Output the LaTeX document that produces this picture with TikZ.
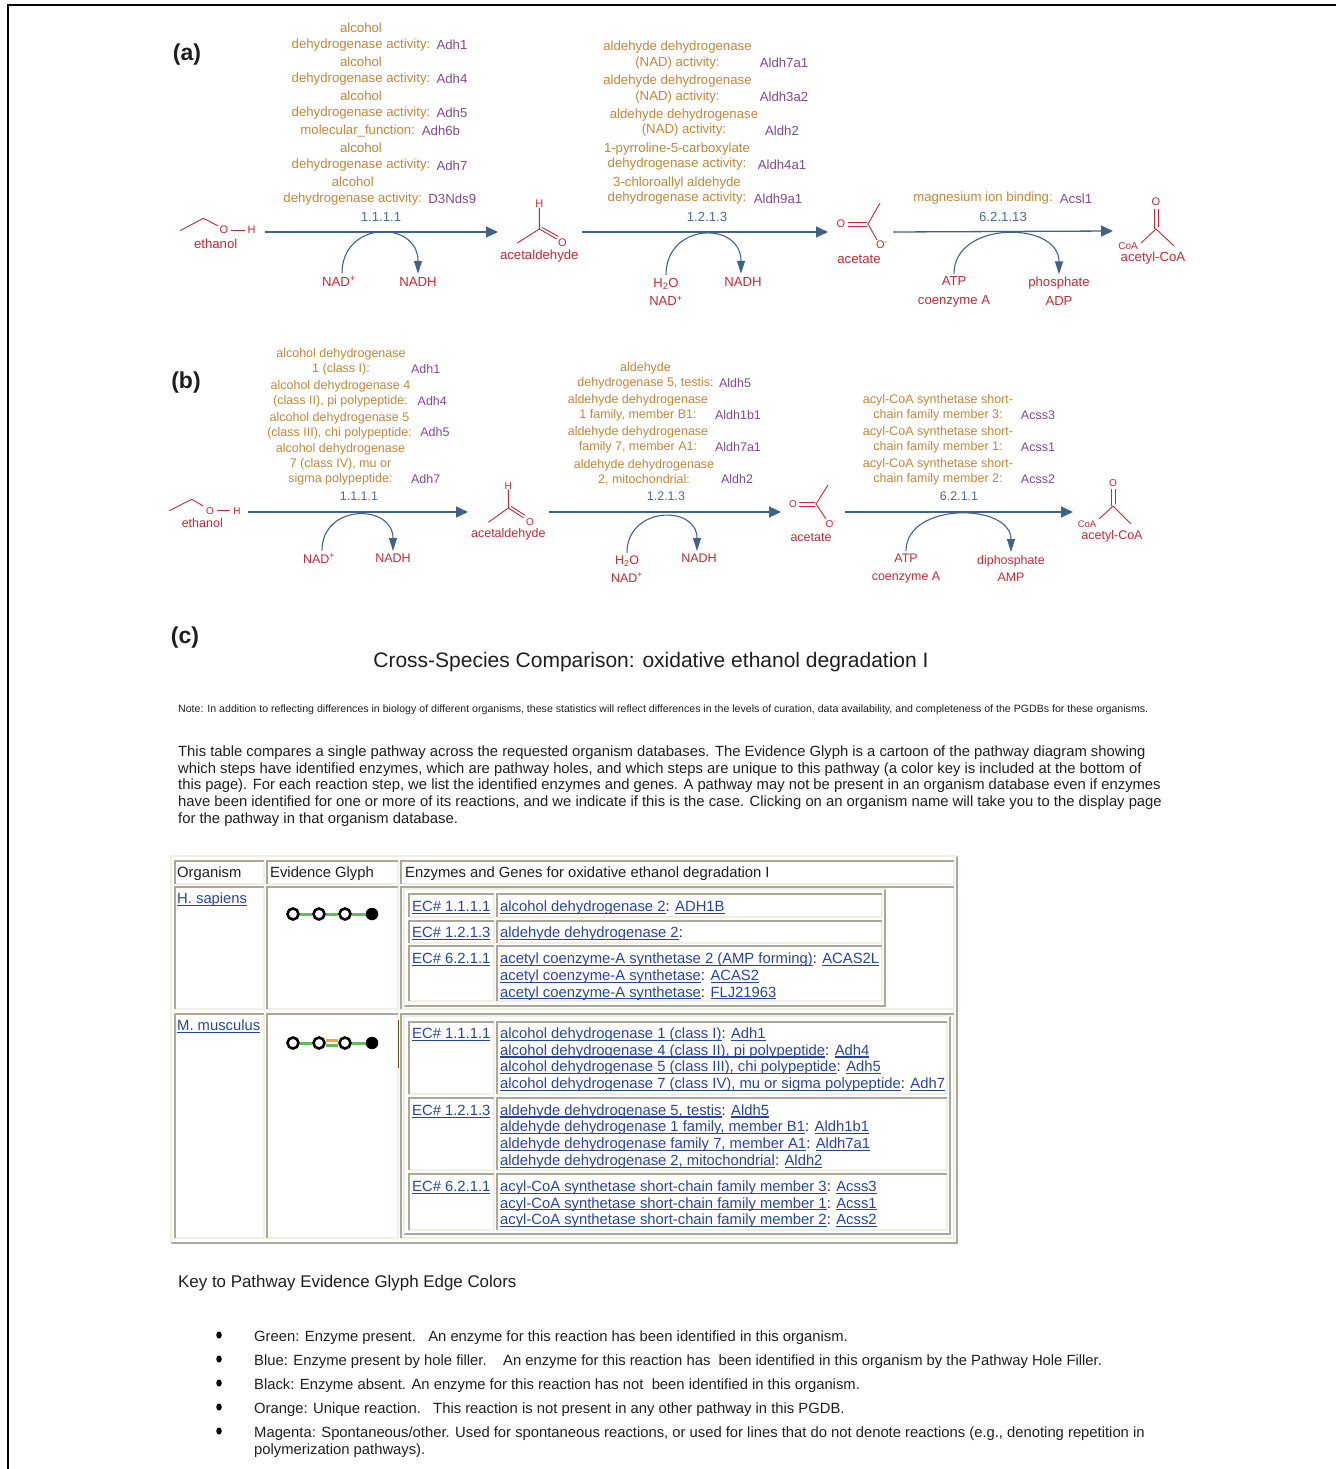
\documentclass[tikz,border=0pt]{standalone}
\usepackage{fontspec}
\setmainfont{Liberation Sans}
\usetikzlibrary{arrows.meta,shapes.geometric}
\definecolor{enzc}{RGB}{192,134,56}
\definecolor{genec}{RGB}{128,72,148}
\definecolor{ecc}{RGB}{74,108,148}
\definecolor{cpdc}{RGB}{198,40,52}
\definecolor{rxnc}{RGB}{62,98,136}
\definecolor{linkc}{RGB}{38,68,168}
\definecolor{txtc}{RGB}{30,30,30}
\definecolor{shadow}{HTML}{ACA899}
\definecolor{hilite}{HTML}{F1EFE2}
\definecolor{glyphg}{RGB}{96,190,88}
\definecolor{glypho}{RGB}{246,160,60}
\definecolor{olivec}{RGB}{110,90,30}
\newcommand{\lnk}[1]{{\color{linkc}\setbox0\hbox{#1}\rlap{\rule[-2.4pt]{\wd0}{1.2pt}}\box0}}
\newcommand{\insetbox}[4]{\draw[hilite,line width=2pt] (#1,#4)--(#3,#4)--(#3,#2);
  \draw[shadow,line width=2pt] (#1,#4)--(#1,#2)--(#3,#2);}
\newcommand{\outsetbox}[4]{\draw[shadow,line width=2pt] (#1,#4)--(#3,#4)--(#3,#2);
  \draw[hilite,line width=2pt] (#1,#4)--(#1,#2)--(#3,#2);}
\begin{document}
\begin{tikzpicture}[x=1pt,y=-1pt,>={Triangle[length=12pt,width=11pt]},
  lbl/.style={font=\fontsize{13.2}{15.7}\selectfont},
  stk/.style={font=\fontsize{13.1}{18.5}\selectfont},
  atomf/.style={font=\fontsize{11}{12}\selectfont},
  enz/.style={lbl,text=enzc,align=center,inner sep=0pt,yshift=-1.5pt},
  gene/.style={lbl,text=genec,inner sep=0pt,yshift=-1.5pt},
  ec/.style={lbl,text=ecc,inner sep=0pt,yshift=-1.5pt},
  cpd/.style={lbl,text=cpdc,align=center,inner sep=0pt,yshift=-1.5pt},
  atom/.style={atomf,text=cpdc,inner sep=0pt},
  bond/.style={cpdc,line width=0.9pt},
  rxn/.style={rxnc,line width=1.3pt,->},
  cof/.style={rxnc,line width=1.1pt,-{Triangle[length=13pt,width=8pt]}},
  panel/.style={text=txtc,font=\bfseries\fontsize{23}{23}\selectfont,yshift=-2pt},
  txt/.style={text=txtc,inner sep=0pt,anchor=west,align=left,yshift=-1.5pt},
  tbl/.style={txt,font=\fontsize{14.8}{16.7}\selectfont},
  gnode/.style={circle,draw=black,line width=2.6pt,fill=white,minimum size=11pt,inner sep=0pt},
  gend/.style={circle,fill=black,minimum size=12.5pt,inner sep=0pt},
  gedge/.style={glyphg,line width=3pt},
  bullet/.style={ellipse,fill=black,minimum width=5.5pt,minimum height=7pt,inner sep=0pt}]
\useasboundingbox (0,0) rectangle (1336,1469);
\draw[line width=1.5pt] (8,1469) -- (8,5) -- (1336,5);
\begin{scope}
    \node[panel] (pa) at (187,53) {(a)};
    \node[enz] (e11) at (361,35.8) {alcohol\\dehydrogenase activity:};
    \node[gene] (g11) at (452,43.3) {Adh1};
    \node[enz] (e12) at (361,69.7) {alcohol\\dehydrogenase activity:};
    \node[gene] (g12) at (452,77.7) {Adh4};
    \node[enz] (e13) at (361,103.8) {alcohol\\dehydrogenase activity:};
    \node[gene] (g13) at (452,111.7) {Adh5};
    \node[enz] (e14) at (357.7,129.3) {molecular\_function:};
    \node[gene] (g14) at (441,129.3) {Adh6b};
    \node[enz] (e15) at (361,155.8) {alcohol\\dehydrogenase activity:};
    \node[gene] (g15) at (452,164) {Adh7};
    \node[enz] (e16) at (352.8,189.7) {alcohol\\dehydrogenase activity:};
    \node[gene] (g16) at (452.3,197.7) {D3Nds9};
    \node[ec] (ec1) at (381,215) {1.1.1.1};
    \node[enz] (e21) at (677.5,53.5) {aldehyde dehydrogenase\\(NAD) activity:};
    \node[gene] (g21) at (784,61) {Aldh7a1};
    \node[enz] (e22) at (677.5,87.5) {aldehyde dehydrogenase\\(NAD) activity:};
    \node[gene] (g22) at (784,95) {Aldh3a2};
    \node[enz] (e23) at (684,121) {aldehyde dehydrogenase\\(NAD) activity:};
    \node[gene] (g23) at (782,129) {Aldh2};
    \node[enz] (e24) at (677,155) {1-pyrroline-5-carboxylate\\dehydrogenase activity:};
    \node[gene] (g24) at (782,163) {Aldh4a1};
    \node[enz] (e25) at (677,189) {3-chloroallyl aldehyde\\dehydrogenase activity:};
    \node[gene] (g25) at (778,197) {Aldh9a1};
    \node[ec] (ec2) at (707,215) {1.2.1.3};
    \node[enz] (e31) at (983,197) {magnesium ion binding:};
    \node[gene] (g31) at (1076,197) {Acsl1};
    \node[ec] (ec3) at (1003,215) {6.2.1.13};
    % ethanol
    \draw[bond] (180,230.7) -- (203.3,218.3) -- (218.3,226);
    \node[atom] (eo) at (224,230) {O};
    \node[atom] (eh) at (251.7,230) {H};
    \draw[bond,shorten <=3pt,shorten >=3pt] (eo) -- (eh);
    \node[cpd] (eth) at (215.7,242.3) {ethanol};
    % acetaldehyde
    \node[atom] (dh) at (539.3,204) {H};
    \coordinate (dc) at (539.3,229);
    \draw[bond] (dh) -- (dc) -- (517.3,243);
    \draw[bond] (dc) -- (556.7,239);
    \draw[bond] (542,227.4) -- (558.2,236.4);
    \node[atom] (do) at (562.3,243) {O};
    \node[cpd] (ald) at (539.3,255) {acetaldehyde};
    % acetate
    \node[atom] (to) at (841,224) {O};
    \coordinate (tc) at (868,224);
    \draw[bond] (848,222) -- (867,222);
    \draw[bond] (848,226) -- (867,226);
    \draw[bond] (880,203) -- (tc) -- (877,240);
    \node[atom] (tm) at (882,245) {O\textsuperscript{-}};
    \node[cpd] (act) at (859,258) {acetate};
    % acetyl-CoA
    \node[atom] (ko) at (1156,202) {O};
    \coordinate (kc) at (1156,229);
    \draw[bond] (1154,209) -- (1154,229);
    \draw[bond] (1158,209) -- (1158,227);
    \draw[bond] (1141,243) -- (kc) -- (1174,246);
    \node[atom,font=\fontsize{10}{10}\selectfont] (kcoa) at (1128,246) {CoA};
    \node[cpd] (acoa) at (1153,257) {acetyl-CoA};
    % reactions
    \coordinate (r1a) at (265,232); \coordinate (r1b) at (498,232);
    \coordinate (r2a) at (582,232); \coordinate (r2b) at (828,232);
    \coordinate (r3a) at (893,232); \coordinate (r3b) at (1113,231);
    \draw[rxn] (r1a) -- (r1b);
    \draw[rxn] (r2a) -- (r2b);
    \draw[rxn] (r3a) -- (r3b);
    \node[cpd] (nad1) at (339,280) {NAD\textsuperscript{+}};
    \node[cpd] (nadh1) at (418,280) {NADH};
    \draw[cof] ([xshift=3pt,yshift=3pt]nad1.north) to[out=90,in=90,looseness=1.8] ([yshift=3pt]nadh1.north);
    \node[cpd,stk] (wat2) at (666,290.5) {H\textsubscript{2}O\\NAD\textsuperscript{+}};
    \node[cpd] (nadh2) at (743,280) {NADH};
    \draw[cof] ([yshift=3pt]wat2.north) to[out=90,in=90,looseness=1.8] ([xshift=-2pt,yshift=3pt]nadh2.north);
    \node[cpd,stk] (atp3) at (954,290.5) {ATP\\coenzyme A};
    \node[cpd,stk] (pho3) at (1059,290) {phosphate\\ADP};
    \draw[cof] ([yshift=3pt]atp3.north) to[out=90,in=90,looseness=1.3] ([yshift=3pt]pho3.north);
\end{scope}
\begin{scope}[lbl/.style={font=\fontsize{12.5}{15}\selectfont},
    stk/.style={font=\fontsize{12.4}{17.5}\selectfont},
    atomf/.style={font=\fontsize{10}{11}\selectfont}]
    \node[panel] (pb) at (186,381) {(b)};
    \node[enz] (f11) at (341,360.2) {alcohol dehydrogenase\\1 (class I):};
    \node[gene] (h11) at (425.7,367.7) {Adh1};
    \node[enz] (f12) at (340.5,392.2) {alcohol dehydrogenase 4\\(class II), pi polypeptide:};
    \node[gene] (h12) at (432.3,400) {Adh4};
    \node[enz] (f13) at (339.5,423.9) {alcohol dehydrogenase 5\\(class III), chi polypeptide:};
    \node[gene] (h13) at (435,431) {Adh5};
    \node[enz] (f14) at (340.5,463.2) {alcohol dehydrogenase\\7 (class IV), mu or\\sigma polypeptide:};
    \node[gene] (h14) at (425.7,477.7) {Adh7};
    \node[ec] (fc1) at (359,495) {1.1.1.1};
    \node[enz] (f21) at (645.5,374.5) {aldehyde\\dehydrogenase 5, testis:};
    \node[gene] (h21) at (735,382) {Aldh5};
    \node[enz] (f22) at (638,406.5) {aldehyde dehydrogenase\\1 family, member B1:};
    \node[gene] (h22) at (738,414) {Aldh1b1};
    \node[enz] (f23) at (638,438.5) {aldehyde dehydrogenase\\family 7, member A1:};
    \node[gene] (h23) at (738,446) {Aldh7a1};
    \node[enz] (f24) at (644,470.5) {aldehyde dehydrogenase\\2, mitochondrial:};
    \node[gene] (h24) at (737,478) {Aldh2};
    \node[ec] (fc2) at (666,495) {1.2.1.3};
    \node[enz] (f31) at (938,406.5) {acyl-CoA synthetase short-\\chain family member 3:};
    \node[gene] (h31) at (1038,414) {Acss3};
    \node[enz] (f32) at (938,438.5) {acyl-CoA synthetase short-\\chain family member 1:};
    \node[gene] (h32) at (1038,446) {Acss1};
    \node[enz] (f33) at (938,470.5) {acyl-CoA synthetase short-\\chain family member 2:};
    \node[gene] (h33) at (1038,478) {Acss2};
    \node[ec] (fc3) at (959,495) {6.2.1.1};
    % ethanol
    \draw[bond] (169.3,510.7) -- (191.7,499.3) -- (203.3,506);
    \node[atom] (bo) at (210,510.7) {O};
    \node[atom] (bh) at (237,510.7) {H};
    \draw[bond,shorten <=3pt,shorten >=3pt] (bo) -- (bh);
    \node[cpd] (eth2) at (202.3,521.7) {ethanol};
    % acetaldehyde
    \node[atom] (bdh) at (508.3,485.7) {H};
    \coordinate (bdc) at (508.3,508);
    \draw[bond] (bdh) -- (bdc) -- (488.3,522.3);
    \draw[bond] (bdc) -- (523.3,517.7);
    \draw[bond] (511,506.4) -- (524.9,515.2);
    \node[atom] (bdo) at (530,522.3) {O};
    \node[cpd] (ald2) at (508.3,532.7) {acetaldehyde};
    % acetate
    \node[atom] (bto) at (793,504) {O};
    \coordinate (btc) at (816,504);
    \draw[bond] (799,502) -- (815,502);
    \draw[bond] (799,506) -- (815,506);
    \draw[bond] (828,485) -- (btc) -- (826,519);
    \node[atom] (btm) at (831,524) {O\textsuperscript{-}};
    \node[cpd] (act2) at (811,536) {acetate};
    % acetyl-CoA
    \node[atom] (bko) at (1113,483) {O};
    \coordinate (bkc) at (1113,506);
    \draw[bond] (1111,489) -- (1111,506);
    \draw[bond] (1115,489) -- (1115,504);
    \draw[bond] (1099,519) -- (bkc) -- (1131,524);
    \node[atom,font=\fontsize{9.5}{10}\selectfont] (bkcoa) at (1087,524) {CoA};
    \node[cpd] (acoa2) at (1112,535) {acetyl-CoA};
    % reactions
    \coordinate (s1a) at (248,512); \coordinate (s1b) at (468,512);
    \coordinate (s2a) at (549,512); \coordinate (s2b) at (781,512);
    \coordinate (s3a) at (845,512); \coordinate (s3b) at (1073,512);
    \draw[rxn] (s1a) -- (s1b);
    \draw[rxn] (s2a) -- (s2b);
    \draw[rxn] (s3a) -- (s3b);
    \node[cpd] (bnad1) at (319,557) {NAD\textsuperscript{+}};
    \node[cpd] (bnadh1) at (393,557) {NADH};
    \draw[cof] ([xshift=3pt,yshift=3pt]bnad1.north) to[out=90,in=90,looseness=1.7] ([yshift=3pt]bnadh1.north);
    \node[cpd,stk] (bwat2) at (627,567.5) {H\textsubscript{2}O\\NAD\textsuperscript{+}};
    \node[cpd] (bnadh2) at (699,557) {NADH};
    \draw[cof] ([yshift=3pt]bwat2.north) to[out=90,in=90,looseness=1.7] ([xshift=-2pt,yshift=3pt]bnadh2.north);
    \node[cpd,stk] (batp3) at (906,567) {ATP\\coenzyme A};
    \node[cpd,stk] (bdip3) at (1011,567) {diphosphate\\AMP};
    \draw[cof] ([yshift=3pt]batp3.north) to[out=90,in=90,looseness=1.2] ([yshift=3pt]bdip3.north);
\end{scope}
\begin{scope}
    \node[panel] (pc) at (185,636) {(c)};
    \node[text=txtc,font=\fontsize{21}{21}\selectfont,yshift=-1.5pt] (title) at (651,661) {Cross-Species Comparison: oxidative ethanol degradation I};
    \node[txt,font=\fontsize{10.6}{11}\selectfont] (note) at (178,708) {Note: In addition to reflecting differences in biology of different organisms, these statistics will reflect differences in the levels of curation, data availability, and completeness of the PGDBs for these organisms.};
    \node[txt,font=\fontsize{14.8}{16.8}\selectfont] (intro) at (178,784.5) {This table compares a single pathway across the requested organism databases. The Evidence Glyph is a cartoon of the pathway diagram showing\\which steps have identified enzymes, which are pathway holes, and which steps are unique to this pathway (a color key is included at the bottom of\\this page). For each reaction step, we list the identified enzymes and genes. A pathway may not be present in an organism database even if enzymes\\have been identified for one or more of its reactions, and we indicate if this is the case. Clicking on an organism name will take you to the display page\\for the pathway in that organism database.};
    % table
    \outsetbox{171}{856}{957}{1243}
    \insetbox{175}{861}{264}{884}
    \insetbox{267}{861}{398}{884}
    \insetbox{401}{861}{954}{884}
    \insetbox{175}{887}{264}{1009}
    \insetbox{267}{887}{398}{1009}
    \insetbox{401}{887}{954}{1009}
    \outsetbox{404}{889}{885}{1006}
    \insetbox{409}{894}{494}{917}
    \insetbox{497}{894}{882}{917}
    \insetbox{409}{921}{494}{943}
    \insetbox{497}{921}{882}{943}
    \insetbox{409}{946}{494}{1001}
    \insetbox{497}{946}{882}{1001}
    \insetbox{175}{1014}{264}{1238}
    \insetbox{267}{1014}{398}{1238}
    \insetbox{401}{1014}{954}{1238}
    \outsetbox{404}{1016}{950}{1234}
    \insetbox{409}{1022}{494}{1094}
    \insetbox{497}{1022}{947}{1094}
    \insetbox{409}{1098}{494}{1170}
    \insetbox{497}{1098}{947}{1170}
    \insetbox{409}{1174}{494}{1230}
    \insetbox{497}{1174}{947}{1230}
    \draw[olivec,line width=1.2pt] (398.5,1020) -- (398.5,1068);
    \node[tbl] (th1) at (177,872) {Organism};
    \node[tbl] (th2) at (270,872) {Evidence Glyph};
    \node[tbl] (th3) at (405,872) {Enzymes and Genes for oxidative ethanol degradation I};
    \node[tbl] (hsap) at (177,898) {\lnk{H. sapiens}};
    \node[tbl] (hec1) at (412,906) {\lnk{EC\# 1.1.1.1}};
    \node[tbl] (hen1) at (500,906) {\lnk{alcohol dehydrogenase 2}: \lnk{ADH1B}};
    \node[tbl] (hec2) at (412,932) {\lnk{EC\# 1.2.1.3}};
    \node[tbl] (hen2) at (500,932) {\lnk{aldehyde dehydrogenase 2}:};
    \node[tbl] (hec3) at (412,958) {\lnk{EC\# 6.2.1.1}};
    \node[tbl] (hen3) at (500,975) {\lnk{acetyl coenzyme-A synthetase 2 (AMP forming)}: \lnk{ACAS2L}\\\lnk{acetyl coenzyme-A synthetase}: \lnk{ACAS2}\\\lnk{acetyl coenzyme-A synthetase}: \lnk{FLJ21963}};
    \node[tbl] (mmus) at (177,1025) {\lnk{M. musculus}};
    \node[tbl] (mec1) at (412,1033) {\lnk{EC\# 1.1.1.1}};
    \node[tbl] (men1) at (500,1058.2) {\lnk{alcohol dehydrogenase 1 (class I)}: \lnk{Adh1}\\\lnk{alcohol dehydrogenase 4 (class II), pi polypeptide}: \lnk{Adh4}\\\lnk{alcohol dehydrogenase 5 (class III), chi polypeptide}: \lnk{Adh5}\\\lnk{alcohol dehydrogenase 7 (class IV), mu or sigma polypeptide}: \lnk{Adh7}};
    \node[tbl] (mec2) at (412,1110) {\lnk{EC\# 1.2.1.3}};
    \node[tbl] (men2) at (500,1135) {\lnk{aldehyde dehydrogenase 5, testis}: \lnk{Aldh5}\\\lnk{aldehyde dehydrogenase 1 family, member B1}: \lnk{Aldh1b1}\\\lnk{aldehyde dehydrogenase family 7, member A1}: \lnk{Aldh7a1}\\\lnk{aldehyde dehydrogenase 2, mitochondrial}: \lnk{Aldh2}};
    \node[tbl] (mec3) at (412,1186) {\lnk{EC\# 6.2.1.1}};
    \node[tbl] (men3) at (500,1202.7) {\lnk{acyl-CoA synthetase short-chain family member 3}: \lnk{Acss3}\\\lnk{acyl-CoA synthetase short-chain family member 1}: \lnk{Acss1}\\\lnk{acyl-CoA synthetase short-chain family member 2}: \lnk{Acss2}};
    % glyphs
    \node[gnode] (hg1) at (293,914) {};
    \node[gnode] (hg2) at (319,914) {};
    \node[gnode] (hg3) at (345,914) {};
    \node[gend] (hg4) at (372,914) {};
    \draw[gedge] (hg1) -- (hg2);
    \draw[gedge] (hg2) -- (hg3);
    \draw[gedge] (hg3) -- (hg4);
    \node[gnode] (mg1) at (293,1043) {};
    \node[gnode] (mg2) at (319,1043) {};
    \node[gnode] (mg3) at (345,1043) {};
    \node[gend] (mg4) at (372,1043) {};
    \draw[gedge] (mg1) -- (mg2);
    \draw[gedge,glypho,line width=2.5pt] ([yshift=2.5pt]mg2.east) -- ([yshift=2.5pt]mg3.west);
    \draw[gedge,line width=2.5pt] ([yshift=-2.5pt]mg2.east) -- ([yshift=-2.5pt]mg3.west);
    \draw[gedge] (mg3) -- (mg4);
    % key
    \node[txt,font=\fontsize{16.9}{17}\selectfont] (key) at (178,1282) {Key to Pathway Evidence Glyph Edge Colors};
    \node[bullet] (k1) at (219,1335) {};
    \node[bullet] (k2) at (219,1359) {};
    \node[bullet] (k3) at (219,1383) {};
    \node[bullet] (k4) at (219,1407) {};
    \node[bullet] (k5) at (219,1431) {};
    \node[tbl] (t1) at (254,1336) {Green: Enzyme present.\ \ \ An enzyme for this reaction has been identified in this organism.};
    \node[tbl] (t2) at (254,1360) {Blue: Enzyme present by hole filler.\ \ \ \ An enzyme for this reaction has\ \ been identified in this organism by the Pathway Hole Filler.};
    \node[tbl] (t3) at (254,1384) {Black: Enzyme absent. An enzyme for this reaction has not\ \ been identified in this organism.};
    \node[tbl] (t4) at (254,1408) {Orange: Unique reaction.\ \ \ This reaction is not present in any other pathway in this PGDB.};
    \node[tbl] (t5) at (254,1440.5) {Magenta: Spontaneous/other. Used for spontaneous reactions, or used for lines that do not denote reactions (e.g., denoting repetition in\\polymerization pathways).};
\end{scope}
\end{tikzpicture}
\end{document}
